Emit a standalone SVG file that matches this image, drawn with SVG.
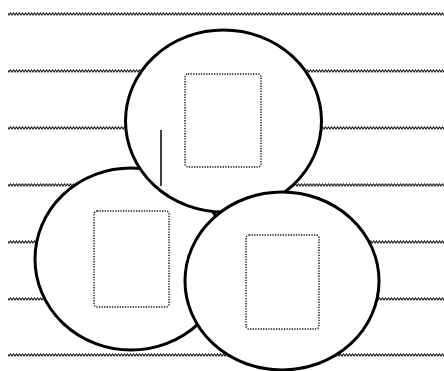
<svg xmlns="http://www.w3.org/2000/svg" width="444" height="371" viewBox="0 0 444 371">
<defs>
<pattern id="wave" x="0" y="0" width="3" height="4" patternUnits="userSpaceOnUse">
<path d="M-1.5,1 L0,3 L1.5,1 L3,3 L4.5,1" fill="none" stroke="#222" stroke-width="1.1"/>
</pattern>
<style>
.bubble{fill:#fff;stroke:#000;stroke-width:3}
.slot{fill:none;stroke:#111;stroke-width:1.4;stroke-dasharray:1.3 1.3}
.wave{fill:url(#wave)}
</style>
</defs>
<rect width="444" height="371" fill="#fff"/>
<g id="waves">
<rect class="wave" transform="translate(0,12)" x="8" y="0" width="436" height="4"/>
<rect class="wave" transform="translate(0,69)" x="8" y="0" width="436" height="4"/>
<rect class="wave" transform="translate(0,126)" x="8" y="0" width="436" height="4"/>
<rect class="wave" transform="translate(0,183)" x="8" y="0" width="436" height="4"/>
<rect class="wave" transform="translate(0,240)" x="8" y="0" width="436" height="4"/>
<rect class="wave" transform="translate(0,297)" x="8" y="0" width="436" height="4"/>
<rect class="wave" transform="translate(0,353)" x="8" y="0" width="436" height="4"/>
</g>
<g id="circle-left">
<ellipse class="bubble" cx="131" cy="259" rx="96" ry="91"/>
<rect class="slot" x="94" y="211" width="75" height="96" rx="3"/>
</g>
<g id="circle-top">
<ellipse class="bubble" cx="223.5" cy="121" rx="98" ry="91"/>
<rect class="slot" x="185" y="74" width="76" height="93" rx="3"/>
</g>
<g id="connectors">
<line x1="161" y1="130" x2="161" y2="186" stroke="#000" stroke-width="1.5"/>
</g>
<g id="circle-right">
<ellipse class="bubble" cx="282" cy="281" rx="97" ry="89"/>
<rect class="slot" x="246" y="235" width="73" height="94" rx="3"/>
</g>
</svg>
